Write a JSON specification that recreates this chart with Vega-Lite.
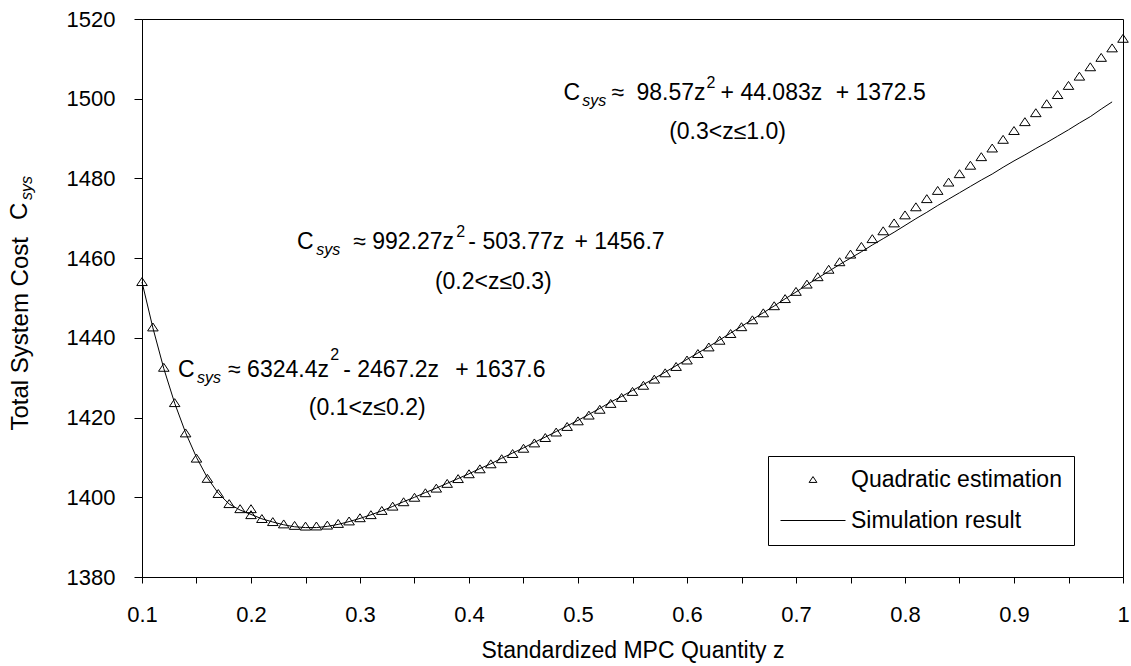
{
  "$schema": "https://vega.github.io/schema/vega-lite/v6.json",
  "width": 981,
  "height": 558,
  "autosize": {"type": "none"},
  "padding": {"left": 142, "top": 19, "right": 8, "bottom": 89},
  "background": "white",
  "config": {
    "view": {"stroke": "black", "strokeWidth": 1},
    "font": "Liberation Sans",
    "axis": {
      "grid": false,
      "domainColor": "black",
      "domainWidth": 1,
      "tickColor": "black",
      "tickWidth": 1,
      "labelColor": "black",
      "titleColor": "black",
      "labelFont": "Liberation Sans",
      "titleFont": "Liberation Sans",
      "labelFontSize": 22,
      "titleFontSize": 23,
      "titleFontWeight": "normal",
      "labelFlush": false,
      "labelOverlap": false
    }
  },
  "datasets": {
    "quad": [
      {"z": 0.10, "cost": 1454.12}, {"z": 0.11, "cost": 1442.73}, {"z": 0.12, "cost": 1432.61},
      {"z": 0.13, "cost": 1423.75}, {"z": 0.14, "cost": 1416.15}, {"z": 0.15, "cost": 1409.82},
      {"z": 0.16, "cost": 1404.75}, {"z": 0.17, "cost": 1400.95}, {"z": 0.18, "cost": 1398.41},
      {"z": 0.19, "cost": 1397.14}, {"z": 0.20, "cost": 1397.14}, {"z": 0.20, "cost": 1395.64},
      {"z": 0.21, "cost": 1394.67}, {"z": 0.22, "cost": 1393.90}, {"z": 0.23, "cost": 1393.32},
      {"z": 0.24, "cost": 1392.95}, {"z": 0.25, "cost": 1392.77}, {"z": 0.26, "cost": 1392.80},
      {"z": 0.27, "cost": 1393.02}, {"z": 0.28, "cost": 1393.44}, {"z": 0.29, "cost": 1394.06},
      {"z": 0.30, "cost": 1394.87}, {"z": 0.31, "cost": 1395.64}, {"z": 0.32, "cost": 1396.70},
      {"z": 0.33, "cost": 1397.78}, {"z": 0.34, "cost": 1398.88}, {"z": 0.35, "cost": 1400.00},
      {"z": 0.36, "cost": 1401.14}, {"z": 0.37, "cost": 1402.30}, {"z": 0.38, "cost": 1403.49},
      {"z": 0.39, "cost": 1404.69}, {"z": 0.40, "cost": 1405.90}, {"z": 0.41, "cost": 1407.14},
      {"z": 0.42, "cost": 1408.40}, {"z": 0.43, "cost": 1409.68}, {"z": 0.44, "cost": 1410.98},
      {"z": 0.45, "cost": 1412.30}, {"z": 0.46, "cost": 1413.64}, {"z": 0.47, "cost": 1414.99},
      {"z": 0.48, "cost": 1416.37}, {"z": 0.49, "cost": 1417.77}, {"z": 0.50, "cost": 1419.18},
      {"z": 0.51, "cost": 1420.62}, {"z": 0.52, "cost": 1422.08}, {"z": 0.53, "cost": 1423.55},
      {"z": 0.54, "cost": 1425.05}, {"z": 0.55, "cost": 1426.56}, {"z": 0.56, "cost": 1428.10},
      {"z": 0.57, "cost": 1429.65}, {"z": 0.58, "cost": 1431.23}, {"z": 0.59, "cost": 1432.82},
      {"z": 0.60, "cost": 1434.44}, {"z": 0.61, "cost": 1436.07}, {"z": 0.62, "cost": 1437.72},
      {"z": 0.63, "cost": 1439.40}, {"z": 0.64, "cost": 1441.09}, {"z": 0.65, "cost": 1442.80},
      {"z": 0.66, "cost": 1444.53}, {"z": 0.67, "cost": 1446.28}, {"z": 0.68, "cost": 1448.06},
      {"z": 0.69, "cost": 1449.85}, {"z": 0.70, "cost": 1451.66}, {"z": 0.71, "cost": 1453.49},
      {"z": 0.72, "cost": 1455.34}, {"z": 0.73, "cost": 1457.21}, {"z": 0.74, "cost": 1459.10},
      {"z": 0.75, "cost": 1461.01}, {"z": 0.76, "cost": 1462.94}, {"z": 0.77, "cost": 1464.89},
      {"z": 0.78, "cost": 1466.86}, {"z": 0.79, "cost": 1468.84}, {"z": 0.80, "cost": 1470.85},
      {"z": 0.81, "cost": 1472.88}, {"z": 0.82, "cost": 1474.93}, {"z": 0.83, "cost": 1476.99},
      {"z": 0.84, "cost": 1479.08}, {"z": 0.85, "cost": 1481.19}, {"z": 0.86, "cost": 1483.31},
      {"z": 0.87, "cost": 1485.46}, {"z": 0.88, "cost": 1487.63}, {"z": 0.89, "cost": 1489.81},
      {"z": 0.90, "cost": 1492.02}, {"z": 0.91, "cost": 1494.24}, {"z": 0.92, "cost": 1496.49},
      {"z": 0.93, "cost": 1498.75}, {"z": 0.94, "cost": 1501.04}, {"z": 0.95, "cost": 1503.34},
      {"z": 0.96, "cost": 1505.66}, {"z": 0.97, "cost": 1508.01}, {"z": 0.98, "cost": 1510.37},
      {"z": 0.99, "cost": 1512.75}, {"z": 1.00, "cost": 1515.15}
    ],
    "sim": [
      {"z": 0.10, "cost": 1454.0}, {"z": 0.11, "cost": 1442.5}, {"z": 0.12, "cost": 1432.3},
      {"z": 0.13, "cost": 1423.6}, {"z": 0.14, "cost": 1416.2}, {"z": 0.15, "cost": 1410.0},
      {"z": 0.16, "cost": 1404.9}, {"z": 0.17, "cost": 1401.0}, {"z": 0.18, "cost": 1398.3},
      {"z": 0.19, "cost": 1396.8}, {"z": 0.20, "cost": 1395.7}, {"z": 0.21, "cost": 1394.6},
      {"z": 0.22, "cost": 1393.8}, {"z": 0.23, "cost": 1393.1}, {"z": 0.24, "cost": 1392.6},
      {"z": 0.25, "cost": 1392.4}, {"z": 0.26, "cost": 1392.4}, {"z": 0.27, "cost": 1392.7},
      {"z": 0.28, "cost": 1393.2}, {"z": 0.29, "cost": 1393.9}, {"z": 0.30, "cost": 1394.7},
      {"z": 0.31, "cost": 1395.6}, {"z": 0.32, "cost": 1396.6}, {"z": 0.33, "cost": 1397.7},
      {"z": 0.34, "cost": 1398.9}, {"z": 0.35, "cost": 1400.0}, {"z": 0.36, "cost": 1401.2},
      {"z": 0.37, "cost": 1402.3}, {"z": 0.38, "cost": 1403.5}, {"z": 0.39, "cost": 1404.7},
      {"z": 0.40, "cost": 1405.9}, {"z": 0.41, "cost": 1407.2}, {"z": 0.42, "cost": 1408.4},
      {"z": 0.43, "cost": 1409.8}, {"z": 0.44, "cost": 1411.1}, {"z": 0.45, "cost": 1412.4},
      {"z": 0.46, "cost": 1413.8}, {"z": 0.47, "cost": 1415.1}, {"z": 0.48, "cost": 1416.5},
      {"z": 0.49, "cost": 1417.9}, {"z": 0.50, "cost": 1419.3}, {"z": 0.51, "cost": 1420.8},
      {"z": 0.52, "cost": 1422.3}, {"z": 0.53, "cost": 1423.9}, {"z": 0.54, "cost": 1425.3},
      {"z": 0.55, "cost": 1426.8}, {"z": 0.56, "cost": 1428.3}, {"z": 0.57, "cost": 1429.8},
      {"z": 0.58, "cost": 1431.4}, {"z": 0.59, "cost": 1433.0}, {"z": 0.60, "cost": 1434.6},
      {"z": 0.61, "cost": 1436.2}, {"z": 0.62, "cost": 1437.8}, {"z": 0.63, "cost": 1439.5},
      {"z": 0.64, "cost": 1441.2}, {"z": 0.65, "cost": 1442.9}, {"z": 0.66, "cost": 1444.6},
      {"z": 0.67, "cost": 1446.3}, {"z": 0.68, "cost": 1448.0}, {"z": 0.69, "cost": 1449.8},
      {"z": 0.70, "cost": 1451.5}, {"z": 0.71, "cost": 1453.3}, {"z": 0.72, "cost": 1455.0},
      {"z": 0.73, "cost": 1456.7}, {"z": 0.74, "cost": 1458.4}, {"z": 0.75, "cost": 1460.0},
      {"z": 0.76, "cost": 1461.6}, {"z": 0.77, "cost": 1463.3}, {"z": 0.78, "cost": 1464.9},
      {"z": 0.79, "cost": 1466.5}, {"z": 0.80, "cost": 1468.2}, {"z": 0.81, "cost": 1469.9},
      {"z": 0.82, "cost": 1471.5}, {"z": 0.83, "cost": 1473.2}, {"z": 0.84, "cost": 1474.8},
      {"z": 0.85, "cost": 1476.4}, {"z": 0.86, "cost": 1478.0}, {"z": 0.87, "cost": 1479.6},
      {"z": 0.88, "cost": 1481.1}, {"z": 0.89, "cost": 1482.8}, {"z": 0.90, "cost": 1484.4},
      {"z": 0.91, "cost": 1485.9}, {"z": 0.92, "cost": 1487.5}, {"z": 0.93, "cost": 1489.0},
      {"z": 0.94, "cost": 1490.6}, {"z": 0.95, "cost": 1492.2}, {"z": 0.96, "cost": 1493.9},
      {"z": 0.97, "cost": 1495.5}, {"z": 0.98, "cost": 1497.4}, {"z": 0.99, "cost": 1499.2}
    ],
    "notes": [
      {"text": "C", "z": 0.4866, "cost": 1501.43, "kind": "eq"},
      {"text": "sys", "z": 0.5040, "cost": 1499.43, "kind": "sub"},
      {"text": "≈", "z": 0.5307, "cost": 1501.43, "kind": "eq"},
      {"text": "98.57z", "z": 0.5536, "cost": 1501.43, "kind": "eq"},
      {"text": "2", "z": 0.6179, "cost": 1503.94, "kind": "sup"},
      {"text": "+ 44.083z", "z": 0.6308, "cost": 1501.43, "kind": "eq"},
      {"text": "+ 1372.5", "z": 0.7364, "cost": 1501.43, "kind": "eq"},
      {"text": "(0.3<z≤1.0)", "z": 0.6372, "cost": 1491.65, "kind": "range"},
      {"text": "C", "z": 0.2423, "cost": 1464.05, "kind": "eq"},
      {"text": "sys", "z": 0.2598, "cost": 1462.05, "kind": "sub"},
      {"text": "≈ 992.27z", "z": 0.2938, "cost": 1464.05, "kind": "eq"},
      {"text": "2", "z": 0.3883, "cost": 1466.56, "kind": "sup"},
      {"text": "- 503.77z", "z": 0.3994, "cost": 1464.05, "kind": "eq"},
      {"text": "+ 1456.7", "z": 0.4967, "cost": 1464.05, "kind": "eq"},
      {"text": "(0.2<z≤0.3)", "z": 0.4223, "cost": 1454.02, "kind": "range"},
      {"text": "C", "z": 0.1331, "cost": 1431.94, "kind": "eq"},
      {"text": "sys", "z": 0.1505, "cost": 1429.93, "kind": "sub"},
      {"text": "≈ 6324.4z", "z": 0.1790, "cost": 1431.94, "kind": "eq"},
      {"text": "2", "z": 0.2726, "cost": 1435.70, "kind": "sup"},
      {"text": "- 2467.2z", "z": 0.2846, "cost": 1431.94, "kind": "eq"},
      {"text": "+ 1637.6", "z": 0.3874, "cost": 1431.94, "kind": "eq"},
      {"text": "(0.1<z≤0.2)", "z": 0.3066, "cost": 1422.41, "kind": "range"},
      {"text": "C", "z": -0.0120, "cost": 1469.57, "kind": "ytitle"},
      {"text": "sys", "z": -0.0056, "cost": 1474.59, "kind": "ytitlesub"}
    ]
  },
  "encoding": {
    "x": {
      "field": "z",
      "type": "quantitative",
      "scale": {"domain": [0.1, 1], "nice": false, "zero": false},
      "axis": {
        "title": "Standardized MPC Quantity z",
        "values": [0.1, 0.15, 0.2, 0.25, 0.3, 0.35, 0.4, 0.45, 0.5, 0.55, 0.6, 0.65, 0.7, 0.75, 0.8, 0.85, 0.9, 0.95, 1],
        "labelExpr": "round(datum.value * 100) % 10 === 0 ? format(datum.value, '~g') : ''",
        "tickSize": 6,
        "labelPadding": 38,
        "labelBaseline": "alphabetic",
        "titleY": 80,
        "titleBaseline": "alphabetic"
      }
    },
    "y": {
      "field": "cost",
      "type": "quantitative",
      "scale": {"domain": [1380, 1520], "nice": false, "zero": false},
      "axis": {
        "title": "Total System Cost",
        "values": [1380, 1400, 1420, 1440, 1460, 1480, 1500, 1520],
        "format": "d",
        "tickSize": 8,
        "labelPadding": 19,
        "titleFontSize": 24,
        "titleAngle": 270,
        "titleAlign": "left",
        "titleBaseline": "middle",
        "titleX": -122,
        "titleY": 411
      }
    }
  },
  "layer": [
    {
      "data": {"name": "sim"},
      "mark": {"type": "line", "color": "black", "strokeWidth": 1}
    },
    {
      "data": {"name": "quad"},
      "mark": {"type": "point", "filled": false, "color": "black", "strokeWidth": 1, "size": 7744, "opacity": 1},
      "encoding": {
        "shape": {
          "datum": "Quadratic estimation",
          "type": "nominal",
          "scale": {
            "domain": ["Quadratic estimation", "Simulation result"],
            "range": ["M0,-0.09L0.12,0.09L-0.12,0.09Z", "M-1,0L1,0"]
          },
          "legend": {
            "title": null,
            "orient": "none",
            "legendX": 626,
            "legendY": 437,
            "padding": 12,
            "strokeColor": "black",
            "fillColor": "white",
            "symbolSize": 4225,
            "clipHeight": 23,
            "symbolStrokeWidth": 1,
            "symbolStrokeColor": "black",
            "symbolFillColor": "transparent",
            "labelFont": "Liberation Sans",
            "labelFontSize": 23,
            "labelColor": "black",
            "labelOffset": 5,
            "labelLimit": 400,
            "rowPadding": 17
          }
        }
      }
    },
    {
      "data": {"name": "notes"},
      "transform": [{"filter": "datum.kind === 'eq'"}],
      "mark": {"type": "text", "align": "left", "baseline": "middle", "fontSize": 23, "color": "black"},
      "encoding": {"text": {"field": "text"}}
    },
    {
      "data": {"name": "notes"},
      "transform": [{"filter": "datum.kind === 'sub'"}],
      "mark": {"type": "text", "align": "left", "baseline": "middle", "fontSize": 16, "fontStyle": "italic", "color": "black"},
      "encoding": {"text": {"field": "text"}}
    },
    {
      "data": {"name": "notes"},
      "transform": [{"filter": "datum.kind === 'sup'"}],
      "mark": {"type": "text", "align": "left", "baseline": "middle", "fontSize": 16, "color": "black"},
      "encoding": {"text": {"field": "text"}}
    },
    {
      "data": {"name": "notes"},
      "transform": [{"filter": "datum.kind === 'range'"}],
      "mark": {"type": "text", "align": "center", "baseline": "middle", "fontSize": 23, "color": "black"},
      "encoding": {"text": {"field": "text"}}
    },
    {
      "data": {"name": "notes"},
      "transform": [{"filter": "datum.kind === 'ytitle'"}],
      "mark": {"type": "text", "align": "left", "baseline": "middle", "angle": 270, "fontSize": 24, "color": "black"},
      "encoding": {"text": {"field": "text"}}
    },
    {
      "data": {"name": "notes"},
      "transform": [{"filter": "datum.kind === 'ytitlesub'"}],
      "mark": {"type": "text", "align": "left", "baseline": "middle", "angle": 270, "fontSize": 16, "fontStyle": "italic", "color": "black"},
      "encoding": {"text": {"field": "text"}}
    }
  ]
}
